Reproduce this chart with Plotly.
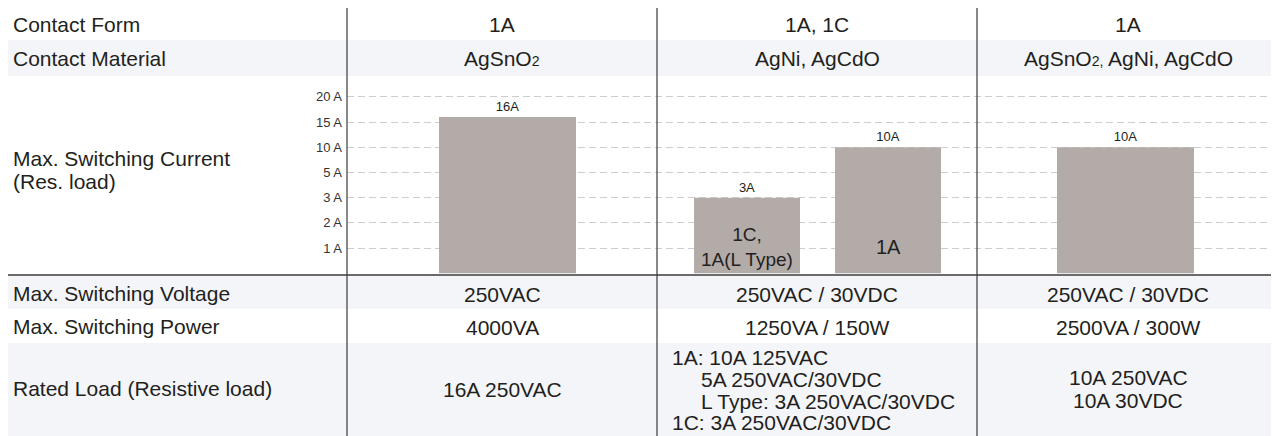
import plotly.graph_objects as go
import numpy as np

# page body has an 8px margin, so the figure is drawn 8px in from the corner
OFF = 8
W, H = 1279 - OFF, 436 - OFF

# table texts
row_labels = ["Contact Form", "Contact Material", "Max. Switching Current", "(Res. load)",
              "Max. Switching Voltage", "Max. Switching Power", "Rated Load (Resistive load)"]
contact_form = ["1A", "1A, 1C", "1A"]
contact_material = ['AgSnO<span style="font-size:14px">2</span>', "AgNi, AgCdO",
                    'AgSnO<span style="font-size:14px">2,</span> AgNi, AgCdO']
switch_voltage = ["250VAC", "250VAC / 30VDC", "250VAC / 30VDC"]
switch_power = ["4000VA", "1250VA / 150W", "2500VA / 300W"]
rated_col1 = ["16A 250VAC"]
rated_col2 = ["1A: 10A 125VAC", "5A 250VAC/30VDC", "L Type: 3A 250VAC/30VDC", "1C: 3A 250VAC/30VDC"]
rated_col3 = ["10A 250VAC", "10A 30VDC"]

# current chart
tick_amps = [1, 2, 3, 5, 10, 15, 20]
tick_text = ["1 A", "2 A", "3 A", "5 A", "10 A", "15 A", "20 A"]
bar_amps = [16, 3, 10, 10]
bar_inner = ["", "1C,<br>1A(L Type)", "1A", ""]
bar_inner_size = [19, 19, 20, 19]

# layout constants, in window pixels
bar_x = [507.5, 747, 888, 1125.5]
bar_w = [137, 106, 106, 137]
col_x = [502, 817, 1128]
col_lines = [347, 657, 977]

BG = "#f4f5f9"
TXT = "#231f20"
FONT = "Liberation Sans, Arial, sans-serif"
FS = 21


def px(x):
    return (x - OFF) / W


def py(y):
    return 1 - (y - OFF) / H


# non-linear amp scale -> evenly spaced tick index
def amp_pos(a):
    return np.interp(a, [0] + tick_amps, list(range(len(tick_amps) + 1)))


fig = go.Figure()

fig.add_trace(go.Bar(
    x=bar_x, y=[amp_pos(a) for a in bar_amps], width=bar_w,
    marker=dict(color="#b3aba8", line=dict(width=0)),
    text=[f"{a}A" for a in bar_amps], textposition="outside",
    textfont=dict(size=13, color=TXT, family=FONT),
    cliponaxis=False, hoverinfo="skip",
))

shapes = []
for y0, y1 in [(40, 76), (276, 309), (343, 436)]:
    shapes.append(dict(type="rect", xref="paper", yref="paper", x0=px(8), x1=1,
                       y0=py(y1), y1=py(y0), fillcolor=BG, line_width=0, layer="below"))
for xl in col_lines:
    shapes.append(dict(type="line", xref="paper", yref="paper", x0=px(xl), x1=px(xl),
                       y0=0, y1=1, line=dict(color="#3a3a3a", width=1.2)))
shapes.append(dict(type="line", xref="paper", yref="paper", x0=px(8), x1=1,
                   y0=py(275), y1=py(275), line=dict(color="#3a3a3a", width=1.5)))

ann = []


def add_text(x, y, t, anchor="center", size=FS):
    ann.append(dict(x=px(x), y=py(y), xref="paper", yref="paper", text=t, showarrow=False,
                    xanchor=anchor, yanchor="middle", align="left" if anchor == "left" else "center",
                    font=dict(size=size, color=TXT, family=FONT)))


label_y = [24, 59, 158, 181, 293, 326, 388]
for lab, yy in zip(row_labels, label_y):
    add_text(11, yy, lab, anchor="left")

for i in range(3):
    add_text(col_x[i], 24, contact_form[i])
    add_text(col_x[i], 59, contact_material[i])
    add_text(col_x[i], 294, switch_voltage[i])
    add_text(col_x[i], 327, switch_power[i])

add_text(col_x[0], 389, rated_col1[0])
for t, yy, xx in zip(rated_col2, [357, 379, 401, 422], [670, 699, 699, 670]):
    add_text(xx, yy, t, anchor="left")
for t, yy in zip(rated_col3, [377, 400]):
    add_text(col_x[2], yy, t)

for xb, lab, sz in zip(bar_x, bar_inner, bar_inner_size):
    if lab:
        ann.append(dict(x=xb, y=1.05, xref="x", yref="y", text=lab, showarrow=False,
                        xanchor="center", yanchor="middle",
                        font=dict(size=sz, color=TXT, family=FONT)))

fig.update_layout(
    width=W, height=H, margin=dict(l=0, r=0, t=0, b=0),
    paper_bgcolor="white", plot_bgcolor="rgba(0,0,0,0)",
    showlegend=False, hovermode=False,
    xaxis=dict(domain=[px(347), 1], range=[347, 1279], visible=False, fixedrange=True),
    yaxis=dict(domain=[py(275), py(77)], range=[-0.07, 7.79],
               tickvals=[amp_pos(a) for a in tick_amps], ticktext=tick_text,
               tickfont=dict(size=13, color="#333", family=FONT), ticklabelstandoff=4,
               showgrid=True, gridcolor="#cdcdcd", griddash="7px,4px", gridwidth=1,
               zeroline=False, showline=False, ticks="", fixedrange=True),
    shapes=shapes, annotations=ann,
)

fig.write_html("out.html")
